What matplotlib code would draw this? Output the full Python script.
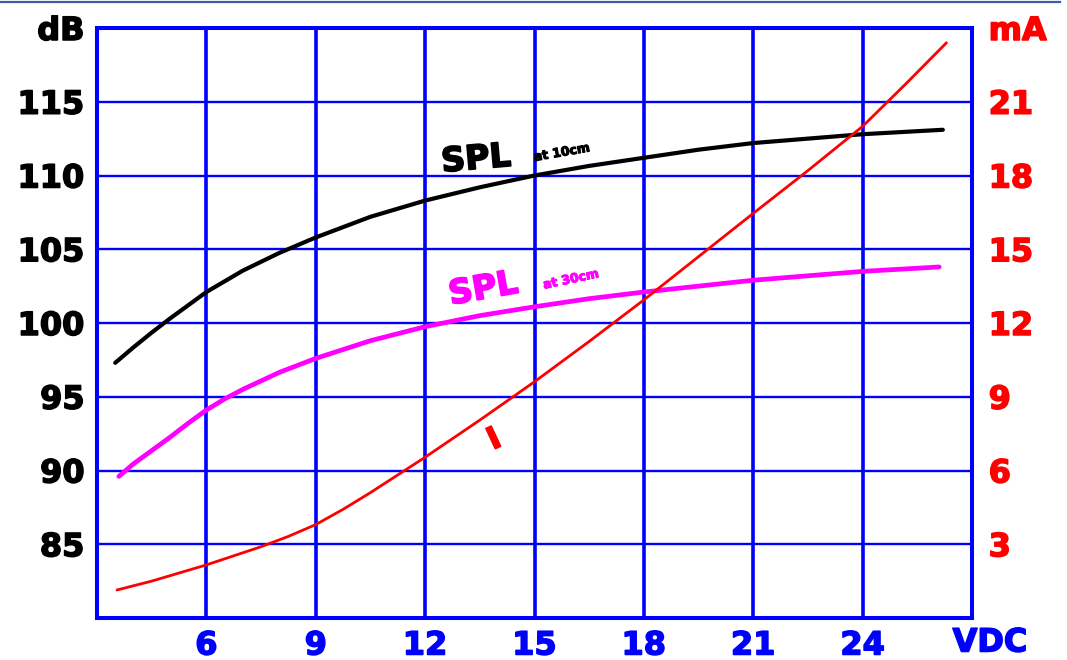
import matplotlib
matplotlib.use("Agg")
import matplotlib.pyplot as plt
from matplotlib.lines import Line2D
import matplotlib.patheffects as pe

# ---- data ----
v_spl10 = [3.5, 4.0, 4.5, 5.0, 5.5, 6, 7, 8, 9, 10.5, 12, 13.5, 15, 16.5, 18, 19.5, 21, 22.5, 24, 26.2]
spl10 = [97.3, 98.35, 99.35, 100.3, 101.2, 102.1, 103.55, 104.75, 105.8, 107.2, 108.3, 109.2, 110.0, 110.65, 111.2, 111.75, 112.2, 112.5, 112.8, 113.1]

v_spl30 = [3.6, 4.0, 4.5, 5.0, 5.5, 6, 6.5, 7, 8, 9, 10.5, 12, 13.5, 15, 16.5, 18, 19.5, 21, 22.5, 24, 26.1]
spl30 = [89.6, 90.45, 91.35, 92.25, 93.2, 94.1, 94.85, 95.5, 96.65, 97.6, 98.8, 99.75, 100.5, 101.1, 101.65, 102.1, 102.5, 102.9, 103.2, 103.5, 103.8]

v_cur = [3.55, 4.5, 6, 7.5, 8.25, 9, 9.75, 10.5, 12, 13.5, 15, 16.5, 18, 19.5, 21, 22.5, 24, 25.2, 26.3]
cur_mA = [1.14, 1.5, 2.16, 2.9, 3.32, 3.8, 4.42, 5.1, 6.54, 8.05, 9.61, 11.25, 12.94, 14.7, 16.46, 18.2, 20.0, 21.75, 23.4]

x_ticks = [6, 9, 12, 15, 18, 21, 24]
x_labels = ["6", "9", "12", "15", "18", "21", "24"]
y_ticks = [85, 90, 95, 100, 105, 110, 115, 120]
y_labels = ["85", "90", "95", "100", "105", "110", "115", "dB"]
y2_ticks = [3, 6, 9, 12, 15, 18, 21, 24]
y2_labels = ["3", "6", "9", "12", "15", "18", "21", "mA"]

BLUE = "#0000ff"
RED = "#ff0000"
MAG = "#ff00ff"
FONT = "DejaVu Sans"


def heavy(t, color, w=1.1):
    t.set_path_effects([pe.withStroke(linewidth=w, foreground=color)])


fig = plt.figure(figsize=(10.67, 6.6), dpi=100)
ax = fig.add_axes([97 / 1067, 1 - 618 / 660, 875 / 1067, 590 / 660])
ax.set_xlim(3, 27)
ax.set_ylim(80, 120)

ax.set_xticks(x_ticks)
ax.set_xticklabels(x_labels)
ax.set_yticks(y_ticks)
ax.set_yticklabels(y_labels)
ax.tick_params(axis="both", length=0)
ax.tick_params(axis="x", pad=9, colors=BLUE, labelsize=23)
ax.tick_params(axis="y", pad=9, colors="black", labelsize=23)
for lab in ax.get_xticklabels():
    lab.set_fontweight("bold")
    lab.set_fontfamily(FONT)
    heavy(lab, BLUE)
for lab in ax.get_yticklabels():
    lab.set_fontweight("bold")
    lab.set_fontfamily(FONT)
    heavy(lab, "black")

ax.grid(axis="x", color=BLUE, lw=2.6)
ax.grid(axis="y", color=BLUE, lw=1.7)
ax.set_axisbelow(True)
for s in ax.spines.values():
    s.set_color(BLUE)
    s.set_linewidth(2.9)

ax.plot(v_spl10, spl10, color="black", lw=3.0, solid_capstyle="round",
        solid_joinstyle="round", zorder=3)
ax.plot(v_spl30, spl30, color=MAG, lw=3.4, solid_capstyle="round",
        solid_joinstyle="round", zorder=3)

ax2 = ax.twinx()
ax2.set_ylim(0, 24)
ax2.set_yticks(y2_ticks)
ax2.set_yticklabels(y2_labels)
ax2.tick_params(axis="y", length=0, pad=12, colors=RED, labelsize=23)
for lab in ax2.get_yticklabels():
    lab.set_fontweight("bold")
    lab.set_fontfamily(FONT)
    heavy(lab, RED)
for s in ax2.spines.values():
    s.set_visible(False)
ax2.plot(v_cur, cur_mA, color=RED, lw=2.0, solid_capstyle="round",
         solid_joinstyle="round")

# curve labels
t = ax.text(13.4, 111.1, "SPL", color="black", fontsize=24, fontweight="bold",
            family=FONT, ha="center", va="center", rotation=5)
heavy(t, "black", 1.3)
t = ax.text(15.75, 111.55, "at 10cm", color="black", fontsize=9, fontweight="bold",
            family=FONT, ha="center", va="center", rotation=10)
heavy(t, "black", 0.8)
t = ax.text(13.6, 102.3, "SPL", color=MAG, fontsize=24, fontweight="bold",
            family=FONT, ha="center", va="center", rotation=10)
heavy(t, MAG, 1.3)
t = ax.text(16.0, 102.95, "at 30cm", color=MAG, fontsize=9, fontweight="bold",
            family=FONT, ha="center", va="center", rotation=12)
heavy(t, MAG, 0.8)
t = ax2.text(13.9, 7.25, "I", color=RED, fontsize=22, fontweight="bold",
             family=FONT, ha="center", va="center", rotation=25)
heavy(t, RED, 1.2)

# axis unit at bottom right
t = fig.text(990 / 1067, 1 - 643 / 660, "VDC", color=BLUE, fontsize=23,
             fontweight="bold", family=FONT, ha="center", va="center")
heavy(t, BLUE)

# thin line at the very top
fig.add_artist(Line2D([0, 1060 / 1067], [0.997, 0.997], transform=fig.transFigure,
                      color="#3d5ca6", lw=1.6))

fig.savefig("out.png", dpi=100)
